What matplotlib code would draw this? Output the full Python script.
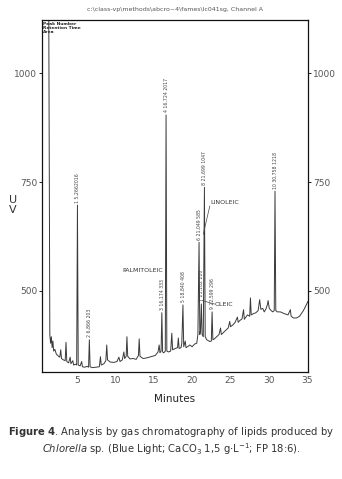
import matplotlib
matplotlib.use("Agg")
import matplotlib.pyplot as plt

# Chromatogram trace: (minutes, uV)
chromatogram = [
    (0.43, 1200), (1.10, 1200), (1.20, 1200), (1.30, 1200), (1.45, 400),
    (1.55, 380), (1.65, 395), (1.75, 370), (1.85, 385), (1.95, 362), (2.1, 366),
    (2.3, 355), (2.6, 350), (2.75, 348), (2.87, 365), (2.97, 345), (3.2, 342),
    (3.45, 340), (3.56, 382), (3.66, 338), (3.9, 335), (4.1, 348), (4.2, 333),
    (4.45, 340), (4.55, 330), (4.8, 332), (4.95, 330), (5.05, 697), (5.15, 330),
    (5.4, 328), (5.6, 338), (5.7, 326), (6.0, 325), (6.3, 327), (6.5, 325),
    (6.6, 388), (6.7, 326), (7.0, 324), (7.5, 325), (7.9, 326), (8.05, 349),
    (8.15, 330), (8.5, 333), (8.75, 340), (8.87, 376), (8.97, 342), (9.3, 337),
    (9.8, 336), (10.2, 338), (10.45, 348), (10.6, 338), (10.9, 342), (11.1, 360),
    (11.2, 345), (11.4, 350), (11.5, 395), (11.6, 350), (11.9, 344), (12.3, 345),
    (12.7, 343), (13.0, 352), (13.1, 390), (13.2, 350), (13.6, 345), (14.0, 346),
    (14.4, 348), (14.8, 350), (15.2, 352), (15.55, 360), (15.7, 376), (15.8, 358),
    (15.95, 362), (16.05, 450), (16.15, 360), (16.3, 358), (16.5, 362),
    (16.6, 904), (16.7, 362), (16.9, 360), (17.2, 362), (17.35, 403), (17.45, 365),
    (17.8, 368), (18.1, 370), (18.2, 392), (18.3, 368), (18.55, 370), (18.65, 380),
    (18.8, 468), (18.9, 372), (19.1, 385), (19.2, 370), (19.4, 372), (19.7, 376),
    (20.0, 372), (20.3, 378), (20.6, 380), (20.75, 400), (20.9, 612), (21.0, 400),
    (21.1, 410), (21.2, 470), (21.3, 400), (21.45, 395), (21.6, 738), (21.7, 395),
    (21.9, 388), (22.1, 386), (22.3, 384), (22.5, 385), (22.6, 452), (22.7, 388),
    (22.9, 390), (23.2, 395), (23.5, 400), (23.7, 415), (23.8, 400), (24.1, 405),
    (24.4, 410), (24.7, 415), (24.9, 430), (25.0, 418), (25.3, 422), (25.6, 428),
    (25.9, 440), (26.0, 428), (26.2, 432), (26.5, 436), (26.7, 457), (26.8, 435),
    (27.0, 440), (27.2, 445), (27.5, 442), (27.6, 484), (27.7, 445), (28.0, 448),
    (28.3, 450), (28.6, 455), (28.8, 480), (28.95, 458), (29.2, 460), (29.4, 452),
    (29.6, 458), (29.8, 468), (29.9, 478), (30.05, 460), (30.3, 455), (30.5, 452),
    (30.7, 455), (30.8, 729), (30.9, 455), (31.1, 452), (31.5, 452), (32.0, 448),
    (32.5, 445), (32.8, 457), (32.9, 442), (33.2, 438), (33.6, 438), (34.0, 442),
    (34.5, 455), (35.1, 476),
]

# Labelled peaks: (minutes, apex uV, label)
peak_times = [5.05, 6.6, 16.05, 16.6, 18.8, 20.9, 21.2, 21.6, 22.6, 30.8]
peak_heights = [697, 388, 450, 904, 468, 612, 470, 738, 452, 729]
peak_labels = ["1 5,2662016", "2 6,866 203", "3 16,174 333", "4 16,724 2017",
               "5 18,840 408", "6 21,049 585", "7 21,182 220", "8 21,699 1047",
               "9 22,599 296", "10 30,758 1218"]

x_ticks = [5, 10, 15, 20, 25, 30, 35]
y_ticks = [500, 750, 1000]

t = [p[0] for p in chromatogram]
v = [p[1] for p in chromatogram]

fig = plt.figure(figsize=(3.42, 4.79), dpi=100)
ax = fig.add_axes([42/342, 1-372/479, 266/342, 352/479])
ax.plot(t, v, color="#3a3a3a", lw=0.7)
ax.set_xlim(0.43, 35.1)
ax.set_ylim(314, 1122)

ax.set_xticks(x_ticks)
ax.set_yticks(y_ticks)
ax.tick_params(axis="x", length=0, labelsize=6.5, labelcolor="#555555", pad=3)
ax.tick_params(axis="y", length=2.5, labelsize=6.5, labelcolor="#555555", pad=1,
               right=True, labelright=True, width=0.6)
for s in ax.spines.values():
    s.set_linewidth(0.9)
    s.set_color("#111111")

ax.set_xlabel("Minutes", fontsize=7.5, labelpad=6, color="#222222")
fig.text(13/342, 1-205/479, "U\nV", fontsize=8, ha="center", va="center",
         color="#333333", linespacing=0.9)

for pt, ph, pl in zip(peak_times, peak_heights, peak_labels):
    ax.text(pt, ph + 6, "\u2013" + pl if False else pl, rotation=90, fontsize=3.3,
            ha="center", va="bottom", color="#444444")

ax.text(16.2, 548, "PALMITOLEIC", fontsize=4.5, ha="right", va="center",
        color="#333333")
ax.text(22.4, 702, "LINOLEIC", fontsize=4.5, ha="left", va="center",
        color="#333333")
ax.plot([22.3, 21.45], [695, 630], color="#444444", lw=0.5)
ax.text(22.9, 468, "OLEIC", fontsize=4.5, ha="left", va="center", color="#333333")
ax.plot([22.9, 21.3], [470, 478], color="#444444", lw=0.5)

ax.text(0.6, 1118, "Peak Number\nRetention Time\nArea", fontsize=3.2,
        fontweight="bold", ha="left", va="top", linespacing=1.0, color="#222222")

fig.text(175/342, 1-10/479,
         "c:\\class-vp\\methods\\abcro~4\\fames\\lc041sg, Channel A",
         fontsize=4.5, ha="center", va="center", color="#555555")

fig.text(0.5, 1-432/479,
         r"$\bf{Figure\ 4}$. Analysis by gas chromatography of lipids produced by",
         fontsize=7.2, ha="center", va="center", color="#333333")
fig.text(0.5, 1-449/479,
         r"$\it{Chlorella}$ sp. (Blue Light; CaCO$_3$ 1,5 g$\cdot$L$^{-1}$; FP 18:6).",
         fontsize=7.2, ha="center", va="center", color="#333333")

fig.savefig("out.png", dpi=100)
